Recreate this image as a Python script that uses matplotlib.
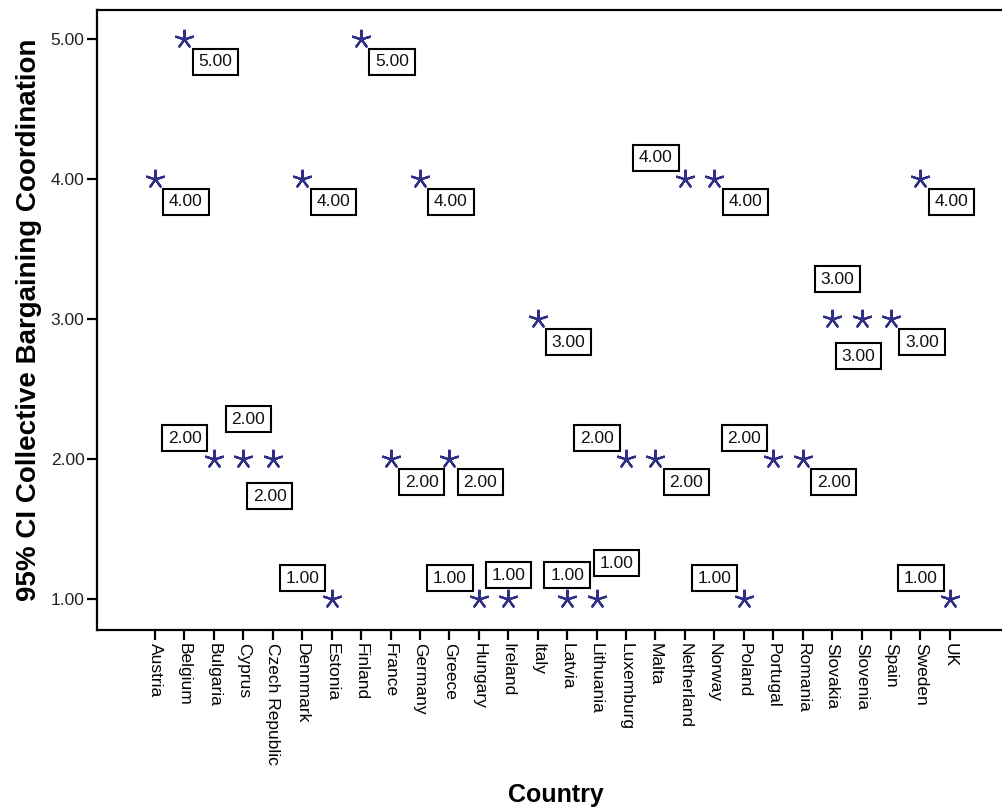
import matplotlib
matplotlib.use("Agg")
import matplotlib.pyplot as plt

plt.rcParams["font.family"] = ["Liberation Sans", "DejaVu Sans"]

# ── Data ─────────────────────────────────────────────────────────────────────

countries = [
    "Austria", "Belgium", "Bulgaria", "Cyprus", "Czech Republic", "Dennmark",
    "Estonia", "Finland", "France", "Germany", "Greece", "Hungary", "Ireland",
    "Italy", "Latvia", "Lithuania", "Luxemburg", "Malta", "Netherland",
    "Norway", "Poland", "Portugal", "Romania", "Slovakia", "Slovenia",
    "Spain", "Sweden", "UK",
]
coordination = [
    4, 5, 2, 2, 2, 4, 1, 5, 2, 4, 2, 1, 1, 3, 1, 1, 2, 2, 4, 4, 1, 2, 2,
    3, 3, 3, 4, 1,
]
y_ticks = [1, 2, 3, 4, 5]

# where each value box sits relative to its star (pixels, y up)
label_offsets = {
    "lr": (31, -23), "ul": (-29, 21), "up": (5, 40), "dn": (-3, -37),
    "top": (0, 24), "ur": (20, 36),
}
label_pos = [
    "lr", "lr", "ul", "up", "dn", "lr", "ul", "lr", "lr", "lr", "lr", "ul",
    "top", "lr", "top", "ur", "ul", "lr", "ul", "lr", "ul", "ul", "lr",
    "up", "dn", "lr", "lr", "ul",
]

# ── Plot ─────────────────────────────────────────────────────────────────────

fig = plt.figure(figsize=(10.02, 8.1), dpi=100)
ax = fig.add_axes([0.0968, 0.2222, 0.9032, 0.7655])

x = list(range(len(countries)))
ax.plot(x, coordination, linestyle="none", marker=(5, 2, 0),
        markersize=14, markeredgewidth=1.6, color="#2f2f86")

for xi, val, pos in zip(x, coordination, label_pos):
    ax.annotate(
        f"{val:.2f}", (xi, val),
        xytext=label_offsets[pos], textcoords="offset pixels",
        ha="center", va="center", fontsize=12.5, color="#111111",
        bbox=dict(boxstyle="square,pad=0.33", fc="white", ec="black", lw=1.5),
    )

ax.set_xlim(-1.97, 28.77)
ax.set_ylim(0.779, 5.207)
ax.set_xticks(x)
ax.set_xticklabels(countries, rotation=-90, fontsize=12.5, va="top",
                   ha="center")
ax.set_yticks(y_ticks)
ax.set_yticklabels([f"{v:.2f}" for v in y_ticks], fontsize=12.5,
                   color="#222222")

ax.tick_params(axis="both", direction="out", length=7, width=1.6)
ax.tick_params(axis="x", pad=2)
ax.tick_params(axis="y", pad=2)
ax.spines["right"].set_visible(False)
for side in ("left", "bottom", "top"):
    ax.spines[side].set_linewidth(1.6)

ax.set_ylabel("95% CI Collective Bargaining Coordination", fontsize=20,
              fontweight="bold", labelpad=6)
fig.text(0.555, 0.004, "Country", fontsize=18, fontweight="bold",
         ha="center", va="bottom")

fig.savefig("out.png", dpi=100, facecolor="white")
